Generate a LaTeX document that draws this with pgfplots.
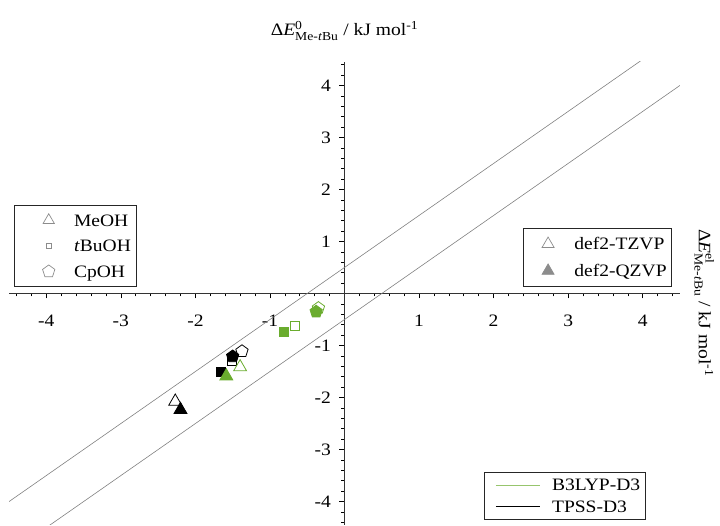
\documentclass[border=0pt]{standalone}
\usepackage{fontspec}
\setmainfont{Liberation Serif}[FakeStretch=1.12]
\usepackage{amsmath}
\usepackage{pgfplots}
\pgfplotsset{compat=1.18}
\definecolor{grn}{RGB}{106,172,46}
\definecolor{lgray}{RGB}{140,140,140}
\begin{document}
\begin{tikzpicture}[font=\fontsize{17.5}{21}\selectfont]
\useasboundingbox (0,0) rectangle (720bp,526bp);
\pgfplotsset{base/.style={at={(9bp,1bp)}, anchor=south west, scale only axis,
  width=671bp, height=463bp, xmin=-4.5, xmax=4.5, ymin=-4.45, ymax=4.45}}
\begin{axis}[base,
  axis lines=middle, axis line style={-, black!80, line width=0.7pt},
  xtick={-4,-3,-2,-1,1,2,3,4}, ytick={-4,-3,-2,-1,1,2,3,4},
  minor xtick={-4.4,-4.2,...,4.41}, minor ytick={-4.4,-4.2,...,4.41},
  tick align=outside, major tick length=5bp, minor tick length=3bp,
  tick style={black, line width=0.6pt},
  xticklabel style={yshift=-13bp},
  yticklabel style={xshift=-5bp},
  /pgf/number format/assume math mode=true,
  xlabel={$\text{Δ}\textit{E}^{\text{el}}_{\text{Me-\textit{t}Bu}}$ / kJ mol$^{\text{-1}}$},
  ylabel={$\text{Δ}\textit{E}^{\text{0}}_{\text{Me-\textit{t}Bu}}$ / kJ mol$^{\text{-1}}$},
  every axis x label/.style={at={(axis description cs:1.028,0.48)}, anchor=base, rotate=-90},
  every axis y label/.style={at={(axis description cs:0.5,1)}, anchor=base, yshift=26bp},
  clip=true,
]
\addplot[gray, line width=0.6pt, no marks] coordinates {(-5,-4.5) (5,5.5)};
\addplot[gray, line width=0.6pt, no marks] coordinates {(-5,-5.5) (5,4.5)};
% TPSS-D3 (black)
\addplot[only marks, mark=triangle, mark size=7.5pt, black, line width=0.8pt, mark options={fill=white}] coordinates {(-2.27,-2.075)};
\addplot[only marks, mark=triangle*, mark size=7.5pt, black, line width=0.8pt] coordinates {(-2.20,-2.235)};
\addplot[only marks, mark=square, mark size=4.5pt, black, line width=0.8pt, mark options={fill=white}] coordinates {(-1.51,-1.30)};
\addplot[only marks, mark=square*, mark size=4.5pt, black, line width=0.8pt] coordinates {(-1.66,-1.51)};
\addplot[only marks, mark=pentagon, mark size=6.5pt, black, line width=0.8pt, mark options={fill=white}] coordinates {(-1.375,-1.11)};
\addplot[only marks, mark=pentagon*, mark size=6.5pt, black, line width=0.8pt] coordinates {(-1.50,-1.21)};
% B3LYP-D3 (green)
\addplot[only marks, mark=triangle, mark size=7.5pt, grn, line width=0.8pt, mark options={fill=white}] coordinates {(-1.40,-1.415)};
\addplot[only marks, mark=triangle*, mark size=7.5pt, grn, line width=0.8pt] coordinates {(-1.585,-1.59)};
\addplot[only marks, mark=square*, mark size=4.5pt, grn, line width=0.8pt] coordinates {(-0.81,-0.74)};
\addplot[only marks, mark=square, mark size=4.5pt, grn, line width=0.8pt, mark options={fill=white}] coordinates {(-0.67,-0.62)};
\addplot[only marks, mark=pentagon, mark size=6.5pt, grn, line width=0.8pt, mark options={fill=white}] coordinates {(-0.35,-0.28)};
\addplot[only marks, mark=pentagon*, mark size=6.5pt, grn, line width=0.8pt] coordinates {(-0.38,-0.35)};
\end{axis}
% legend 1: molecules
\begin{axis}[base, hide axis,
  legend cell align=left,
  legend style={at={(0.0075,0.691)}, anchor=north west, draw=black!85, line width=0.7pt,
    inner xsep=3pt, inner ysep=2pt, nodes={inner sep=2pt, text height=16.7pt, text depth=5pt}}]
\addlegendimage{legend image code/.code={\path (0bp,0bp) (54bp,0bp);
  \draw[draw=lgray, line width=0.7pt, mark=triangle, mark size=6.5pt] plot coordinates {(31bp,0bp)};}}
\addlegendentry{MeOH}
\addlegendimage{legend image code/.code={\path (0bp,0bp) (54bp,0bp);
  \draw[draw=lgray, line width=0.7pt, mark=square, mark size=2.6pt] plot coordinates {(31bp,0bp)};}}
\addlegendentry{\textit{t}BuOH}
\addlegendimage{legend image code/.code={\path (0bp,0bp) (54bp,0bp);
  \draw[draw=lgray, line width=0.7pt, mark=pentagon, mark size=6.5pt] plot coordinates {(31bp,0bp)};}}
\addlegendentry{CpOH}
\end{axis}
% legend 2: basis sets
\begin{axis}[base, hide axis,
  legend cell align=left,
  legend style={at={(0.988,0.641)}, anchor=north east, draw=black!85, line width=0.7pt,
    inner xsep=3pt, inner ysep=2pt, nodes={inner sep=2pt, text height=17.35pt, text depth=5.65pt}}]
\addlegendimage{legend image code/.code={\path (0bp,0bp) (45bp,0bp);
  \draw[draw=lgray, line width=0.7pt, mark=triangle, mark size=7pt] plot coordinates {(21bp,0bp)};}}
\addlegendentry{def2-TZVP}
\addlegendimage{legend image code/.code={\path (0bp,0bp) (45bp,0bp);
  \draw[draw=lgray, fill=lgray, line width=0.7pt, mark=triangle*, mark size=7pt] plot coordinates {(21bp,0bp)};}}
\addlegendentry{def2-QZVP}
\end{axis}
% legend 3: functionals
\begin{axis}[base, hide axis,
  legend cell align=left,
  legend style={at={(0.708,0.1145)}, anchor=north west, draw=black!85, line width=0.7pt,
    inner xsep=3pt, inner ysep=2pt, nodes={inner sep=2pt, text height=14.6pt, text depth=2.9pt}}]
\addlegendimage{legend image code/.code={\path (0bp,0bp) (62bp,0bp);
  \draw[draw=grn!70, line width=1pt] (8bp,0bp) -- (52bp,0bp);}}
\addlegendentry{B3LYP-D3}
\addlegendimage{legend image code/.code={\path (0bp,0bp) (62bp,0bp);
  \draw[draw=black, line width=1pt] (8bp,0bp) -- (52bp,0bp);}}
\addlegendentry{TPSS-D3}
\end{axis}
\end{tikzpicture}
\end{document}
